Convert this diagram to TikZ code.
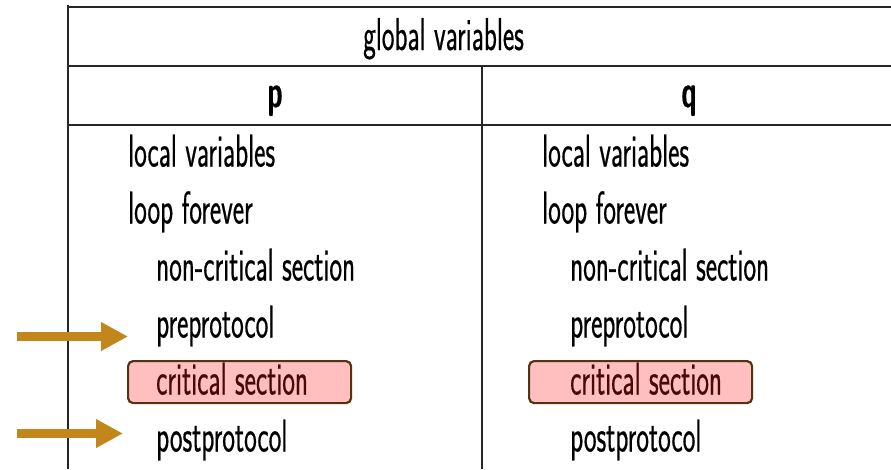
\documentclass[tikz,border=0pt]{standalone}
\usepackage{fontspec}
\newfontfamily\slidefont[FakeStretch=0.585,FakeBold=0.4]{Latin Modern Sans}
\usetikzlibrary{arrows.meta}
\definecolor{arrowgold}{HTML}{C2861A}
\definecolor{critfill}{HTML}{FFBFBF}
\definecolor{critedge}{HTML}{553310}
\definecolor{crittext}{HTML}{4A0808}
\begin{document}
\begin{tikzpicture}[x=1pt,y=-1pt,
  rule/.style={line width=1.2pt,black!85},
  txt/.style={anchor=base west,inner sep=0pt,font=\slidefont\fontsize{46}{50}\selectfont},
  head/.style={anchor=base,inner sep=0pt,font=\slidefont\bfseries\fontsize{46}{50}\selectfont},
  critbox/.style={anchor=north west,draw=critedge,fill=critfill,line width=2.2pt,rounded corners=5pt,
    minimum width=223pt,minimum height=42pt,inner sep=0pt},
  crit/.style={txt,text=crittext},
  pointer/.style={draw=arrowgold,line width=9pt,-{Triangle[length=27pt,width=27pt]}}]
\useasboundingbox (0,0) rectangle (891,469);
% table frame
\coordinate (tl) at (68,5);
\coordinate (bl) at (68,469);
\coordinate (r1a) at (68,7);   \coordinate (r1b) at (891,7);
\coordinate (r2a) at (68,66);  \coordinate (r2b) at (891,66);
\coordinate (r3a) at (68,125); \coordinate (r3b) at (891,125);
\coordinate (mt) at (482,66);  \coordinate (mb) at (482,469);
\draw[rule] (tl) -- (bl);
\draw[rule] (r1a) -- (r1b);
\draw[rule] (r2a) -- (r2b);
\draw[rule] (r3a) -- (r3b);
\draw[rule] (mt) -- (mb);
% headings
\node[txt] (glob) at (363,50) {global variables};
\node[head] (hp) at (275,107) {p};
\node[head] (hq) at (689,107) {q};
% critical section boxes
\node[critbox] (cbp) at (127,360) {};
\node[critbox] (cbq) at (528,360) {};
% process p
\node[txt] (p1) at (128,166.5) {local variables};
\node[txt] (p2) at (128,223.5) {loop forever};
\node[txt] (p3) at (156,280.5) {non-critical section};
\node[txt] (p4) at (156,337.5) {preprotocol};
\node[crit] (p5) at (156,394.5) {critical section};
\node[txt] (p6) at (156,451.5) {postprotocol};
% process q
\node[txt] (q1) at (542,166.5) {local variables};
\node[txt] (q2) at (542,223.5) {loop forever};
\node[txt] (q3) at (570,280.5) {non-critical section};
\node[txt] (q4) at (570,337.5) {preprotocol};
\node[crit] (q5) at (570,394.5) {critical section};
\node[txt] (q6) at (570,451.5) {postprotocol};
% pointers to protocol lines
\coordinate (a1s) at (17,336.5);  \coordinate (a1e) at (128,336.5);
\coordinate (a2s) at (17,433.5);  \coordinate (a2e) at (123,433.5);
\draw[pointer] (a1s) -- (a1e);
\draw[pointer] (a2s) -- (a2e);
\end{tikzpicture}
\end{document}
